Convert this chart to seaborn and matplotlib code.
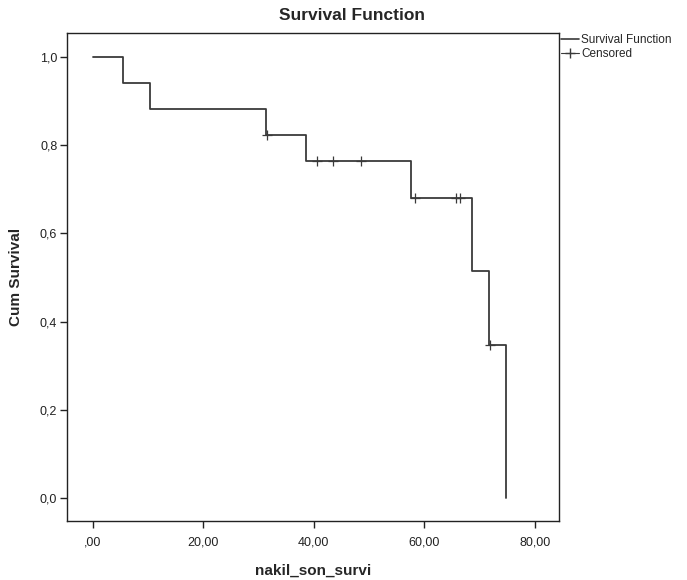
import numpy as np
import pandas as pd
import matplotlib
matplotlib.use("Agg")
import matplotlib.pyplot as plt
from matplotlib.lines import Line2D
from matplotlib.ticker import FuncFormatter
import seaborn as sns

# event times (months) and survival after each drop
event_times = [0.0, 5.4, 10.4, 31.4, 38.5, 57.6, 68.6, 71.7, 74.8]
survival = [1.0, 0.941, 0.882, 0.824, 0.765, 0.680, 0.515, 0.347, 0.0]
censored_times = [31.6, 40.5, 43.4, 48.5, 58.3, 65.8, 66.4, 71.9]

x_ticks = [0, 20, 40, 60, 80]
y_ticks = [0.0, 0.2, 0.4, 0.6, 0.8, 1.0]

steps = pd.DataFrame({"time": event_times, "surv": survival})
idx = np.searchsorted(event_times, censored_times, side="right") - 1
cens = pd.DataFrame({"time": censored_times, "surv": np.array(survival)[idx]})

sns.set_style("white")
plt.rcParams["font.family"] = ["Liberation Sans", "DejaVu Sans"]

fig = plt.figure(figsize=(6.87, 5.8), dpi=100)
ax = fig.add_axes([0.0975, 0.1017, 0.7162, 0.8413])

line_col = "#3a3a3a"
sns.lineplot(data=steps, x="time", y="surv", drawstyle="steps-post",
             estimator=None, sort=False, color=line_col, linewidth=1.3, ax=ax)
sns.scatterplot(data=cens, x="time", y="surv", marker="+", s=45,
                color=line_col, linewidth=0.9, ax=ax, zorder=3)

ax.set_xlim(-4.7, 84.4)
ax.set_ylim(-0.052, 1.054)
ax.set_xticks(x_ticks)
ax.set_yticks(y_ticks)
ax.xaxis.set_major_formatter(FuncFormatter(
    lambda v, p: ",00" if v == 0 else f"{v:.2f}".replace(".", ",")))
ax.yaxis.set_major_formatter(FuncFormatter(
    lambda v, p: f"{v:.1f}".replace(".", ",")))
ax.tick_params(axis="both", direction="out", length=5, width=1,
               labelsize=9, colors="#222222", bottom=True, left=True, pad=2)
ax.tick_params(axis="x", pad=6)
for sp in ax.spines.values():
    sp.set_color("#222222")
    sp.set_linewidth(1.0)

ax.set_xlabel("nakil_son_survi", fontsize=11, fontweight="bold", labelpad=11)
ax.set_ylabel("Cum Survival", fontsize=11, fontweight="bold", labelpad=12)
fig.text(0.512, 0.974, "Survival Function", ha="center", va="center",
         fontsize=12.5, fontweight="bold")

handles = [Line2D([0], [0], color=line_col, lw=1.2),
           Line2D([0], [0], color=line_col, lw=0.8, marker="+", markersize=7)]
fig.legend(handles, ["Survival Function", "Censored"], loc="upper left",
           bbox_to_anchor=(0.813, 0.945), frameon=False, fontsize=8.5,
           handlelength=1.5, handletextpad=0.2, labelspacing=0.15,
           borderaxespad=0, borderpad=0.2)

fig.savefig("out.png", dpi=100)
